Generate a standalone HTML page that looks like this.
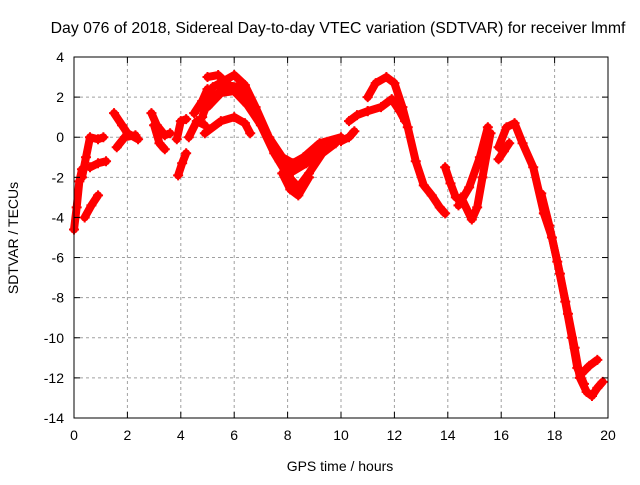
<!DOCTYPE html>
<html><head><meta charset="utf-8"><style>
body{margin:0;background:#fff}
svg text{font-family:"Liberation Sans",sans-serif;font-size:14px;fill:#000}
</style></head><body>
<svg id="chart" width="640" height="480" xmlns="http://www.w3.org/2000/svg">
<rect width="640" height="480" fill="#fff"/>
<g id="grid"></g>
<g id="series"></g>
<rect x="74" y="57" width="534" height="361" fill="none" stroke="#000" stroke-width="1"/>
<g id="axes"></g>
<text x="338" y="33" text-anchor="middle" style="font-size:15.8px">Day 076 of 2018, Sidereal Day-to-day VTEC variation (SDTVAR) for receiver lmmf</text>
<text x="340" y="471" text-anchor="middle">GPS time / hours</text>
<text x="18" y="238" text-anchor="middle" transform="rotate(-90 18 238)">SDTVAR / TECUs</text>
</svg>
<script>
const xTicks=[0,2,4,6,8,10,12,14,16,18,20];
const yTicks=[-14,-12,-10,-8,-6,-4,-2,0,2,4];
const trackA=[[0,-4.6],[0.1,-3.5],[0.2,-2.2],[0.3,-1.6]];
const trackB=[[0.3,-2],[0.45,-1],[0.6,0],[0.9,-0.1],[1.1,0]];
const trackC=[[0.6,-1.5],[0.9,-1.3],[1.2,-1.2]];
const trackD=[[0.4,-4],[0.65,-3.4],[0.9,-2.9]];
const trackE=[[1.5,1.2],[1.8,0.6],[2.0,0.2],[2.4,-0.1]];
const trackF=[[1.6,-0.5],[1.9,0],[2.3,0.1]];
const trackG=[[2.9,1.2],[3.1,0.6],[3.4,0.1],[3.6,0.2]];
const trackH=[[3.0,0.6],[3.2,-0.3],[3.4,-0.6]];
const trackI=[[3.9,-1.9],[4.05,-1.3],[4.2,-0.8]];
const trackJ=[[3.85,-0.1],[4.0,0.8],[4.2,0.9]];
const trackK=[[4.3,0],[4.6,0.8],[4.9,0.6]];
const trackL=[[4.5,1.2],[4.8,1.8],[5.0,2.4]];
const trackM=[[4.8,1.0],[5.2,2.5],[5.6,2.8],[6.0,3.1],[6.4,2.6],[6.8,1.5],[7.3,0],[7.8,-1],[8.2,-1.3],[8.6,-1],[9.2,-0.3],[10,0]];
const trackN=[[5.0,1.5],[5.5,2.2],[6.0,2.3],[6.5,1.6],[7.0,0.6],[7.5,-0.8],[8.0,-1.9],[8.4,-2.5],[8.8,-1.8],[9.3,-0.8],[9.8,-0.3]];
const trackN2=[[5.2,1.9],[5.7,2.6],[6.2,2.5],[6.7,1.3],[7.2,0.2],[7.7,-1.2],[8.2,-1.7],[8.7,-1.3],[9.3,-0.5]];
const trackO=[[4.9,0.2],[5.5,0.8],[6.0,1.0],[6.4,0.7],[6.6,0.2]];
const trackP=[[7.8,-1.8],[8.1,-2.6],[8.4,-2.9],[8.8,-2]];
const trackQ=[[5.0,3.0],[5.4,3.1],[5.8,2.6]];
const trackR=[[10,-0.2],[10.3,0],[10.5,0.3]];
const trackS=[[10.3,0.8],[10.6,1.1],[11,1.3]];
const trackT=[[11.0,2.0],[11.3,2.7],[11.7,3.0],[12.0,2.7],[12.3,1.5],[12.5,0.5],[12.8,-1.2],[13.1,-2.4],[13.4,-2.9],[13.7,-3.5],[13.9,-3.8]];
const trackU=[[11.0,1.3],[11.5,1.5],[11.9,1.9],[12.2,1.3],[12.4,0.8]];
const trackV=[[13.9,-1.5],[14.1,-2.3],[14.3,-3]];
const trackW=[[14.5,-3],[14.9,-4.1],[15.1,-3.5],[15.3,-2],[15.6,0.2]];
const trackX=[[14.4,-3.4],[14.8,-2.5],[15.2,-1],[15.5,0.5]];
const trackY=[[15.9,-0.5],[16.2,0.5],[16.5,0.7],[16.8,-0.3],[17.2,-1.5],[17.6,-3.8]];
const trackZ=[[15.9,-1.1],[16.1,-0.7],[16.3,-0.3]];
const trackDesc=[[17.6,-3.8],[17.9,-5],[18.2,-6.8],[18.5,-8.8],[18.75,-10.5],[18.95,-12],[19.2,-12.7],[19.4,-12.9],[19.6,-12.5],[19.8,-12.2]];
const trackDesc2=[[17.5,-2.8],[17.8,-4.4],[18.1,-6.2],[18.4,-8.2],[18.65,-10],[18.85,-11.5],[19.1,-12.3]];
const trackBranch=[[19.0,-11.8],[19.3,-11.4],[19.6,-11.1]];
const tracks=[trackA,trackB,trackC,trackD,trackE,trackF,trackG,trackH,trackI,trackJ,trackK,trackL,trackM,trackN,trackN2,trackO,trackP,trackQ,trackR,trackS,trackT,trackU,trackV,trackW,trackX,trackY,trackZ,trackDesc,trackDesc2,trackBranch];

const NS='http://www.w3.org/2000/svg';
const X0=74,X1=608,Y0=418,Y1=57;
const sx=t=>X0+(t-0)/(20-0)*(X1-X0);
const sy=v=>Y0-(v-(-14))/(4-(-14))*(Y0-Y1);
function mk(tag,attrs,parent){const e=document.createElementNS(NS,tag);for(const k in attrs)e.setAttribute(k,attrs[k]);parent.appendChild(e);return e;}
const grid=document.getElementById('grid'),axes=document.getElementById('axes'),ser=document.getElementById('series');
xTicks.forEach(t=>{
  const x=sx(t);
  if(t>0&&t<20){const g=mk('line',{x1:x,x2:x,y1:Y1,y2:Y0,stroke:'#a0a0a0','stroke-dasharray':'3,3'},grid);
  
  }
  mk('line',{x1:x,x2:x,y1:Y0,y2:Y0-6,stroke:'#000'},axes);
  mk('line',{x1:x,x2:x,y1:Y1,y2:Y1+6,stroke:'#000'},axes);
  const l=mk('text',{x:x,y:Y0+22,'text-anchor':'middle'},axes);l.textContent=t;
  
  
});
yTicks.forEach(v=>{
  const y=sy(v);
  if(v>-14&&v<4){const g=mk('line',{x1:X0,x2:X1,y1:y,y2:y,stroke:'#a0a0a0','stroke-dasharray':'3,3'},grid);
  
  }
  mk('line',{x1:X0,x2:X0+6,y1:y,y2:y,stroke:'#000'},axes);
  mk('line',{x1:X1,x2:X1-6,y1:y,y2:y,stroke:'#000'},axes);
  const l=mk('text',{x:X0-10,y:y+5,'text-anchor':'end'},axes);l.textContent=v;
  
  
});
tracks.forEach(tr=>{
  const p=mk('polyline',{points:tr.map(d=>sx(d[0])+','+sy(d[1])).join(' '),fill:'none',stroke:'#ff0000','stroke-width':8,'stroke-linejoin':'round','stroke-linecap':'round'},ser);
  
  
  tr.forEach(d=>{
    const x=sx(d[0]),y=sy(d[1]);
    const m=mk('path',{d:`M${x-5},${y}H${x+5}M${x},${y-5}V${y+5}`,stroke:'#ff0000','stroke-width':2},ser);
    
    
  });
});
</script>
</body></html>
